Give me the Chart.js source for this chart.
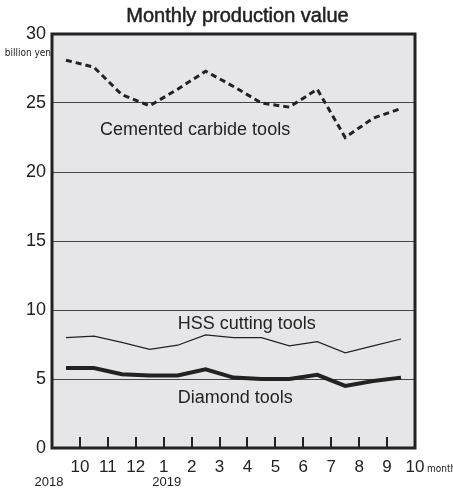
<!DOCTYPE html>
<html>
<head>
<meta charset="utf-8">
<script src="https://cdn.jsdelivr.net/npm/chart.js@4/dist/chart.umd.min.js"></script>
<style>
  body { margin: 0; background: #fff; }
  canvas { display: block; }
</style>
</head>
<body>
<canvas id="myChart" width="453" height="489"></canvas>
<script>
// months Sep 2018 .. Sep 2019, plotted between the month boundary ticks
var months = ['9', '10', '11', '12', '1', '2', '3', '4', '5', '6', '7', '8', '9'];
var tickLabels = ['', '10', '11', '12', '1', '2', '3', '4', '5', '6', '7', '8', '9', '10'];
var cementedCarbide = [28.1, 27.6, 25.6, 24.8, 26.0, 27.3, 26.2, 25.0, 24.7, 26.0, 22.5, 23.9, 24.6];
var hssCutting = [8.0, 8.1, 7.65, 7.15, 7.45, 8.2, 8.0, 8.0, 7.4, 7.7, 6.9, 7.4, 7.9];
var diamond = [5.8, 5.8, 5.35, 5.25, 5.25, 5.7, 5.1, 5.0, 5.0, 5.3, 4.5, 4.85, 5.1];
var yTicks = [0, 5, 10, 15, 20, 25, 30];

var FONT = "'Liberation Sans', Arial, sans-serif";
var NARROW = "'Liberation Sans Narrow', 'DejaVu Sans Condensed', sans-serif";

function points(values) {
    return values.map(function (v, i) { return { x: i + 0.5, y: v }; });
}

var decor = {
    id: 'decor',
    beforeDraw: function (chart) {
        var a = chart.chartArea, ctx = chart.ctx;
        ctx.save();
        ctx.fillStyle = '#e6e6e8';
        ctx.fillRect(a.left, a.top, a.right - a.left, a.bottom - a.top);
        ctx.restore();
    },
    afterDraw: function (chart) {
        var a = chart.chartArea, ctx = chart.ctx;
        var xs = chart.scales.x, ys = chart.scales.y;
        ctx.save();
        // inner tick marks on the bottom edge
        ctx.strokeStyle = '#222';
        ctx.lineWidth = 2;
        for (var i = 1; i < tickLabels.length - 1; i++) {
            var px = Math.round(xs.getPixelForValue(i));
            ctx.beginPath();
            ctx.moveTo(px, a.bottom);
            ctx.lineTo(px, a.bottom - 11);
            ctx.stroke();
        }
        // frame
        ctx.lineWidth = 3;
        ctx.strokeRect(a.left, a.top, a.right - a.left, a.bottom - a.top);

        ctx.fillStyle = '#222';
        // title
        ctx.font = '20px ' + FONT;
        ctx.textAlign = 'center';
        ctx.textBaseline = 'alphabetic';
        ctx.lineWidth = 0.5;
        ctx.fillText('Monthly production value', (a.left + a.right) / 2 + 4, 22);
        ctx.strokeText('Monthly production value', (a.left + a.right) / 2 + 4, 22);

        // series labels
        ctx.font = '18px ' + FONT;
        ctx.textAlign = 'left';
        ctx.fillText('Cemented carbide tools', xs.getPixelForValue(1.72), ys.getPixelForValue(22.7));
        ctx.fillText('HSS cutting tools', xs.getPixelForValue(4.5), ys.getPixelForValue(8.6));
        ctx.fillText('Diamond tools', xs.getPixelForValue(4.5), ys.getPixelForValue(3.25));

        // units and years
        ctx.font = '10px ' + NARROW;
        ctx.textAlign = 'right';
        ctx.fillText('billion yen', a.left - 1, 56);
        ctx.textAlign = 'left';
        ctx.fillText('month', a.right + 12, 472);
        ctx.font = '13px ' + FONT;
        ctx.textAlign = 'center';
        ctx.fillText('2018', xs.getPixelForValue(0) - 3, 486);
        ctx.fillText('2019', xs.getPixelForValue(4) + 3, 486);
        ctx.restore();
    }
};

var ctx = document.getElementById('myChart').getContext('2d');
var myChart = new Chart(ctx, {
    type: 'line',
    data: {
        datasets: [{
            label: 'Cemented carbide tools',
            data: points(cementedCarbide),
            borderColor: '#222',
            borderWidth: 3,
            borderDash: [6, 4],
            pointRadius: 0,
            tension: 0
        }, {
            label: 'HSS cutting tools',
            data: points(hssCutting),
            borderColor: '#222',
            borderWidth: 1.2,
            pointRadius: 0,
            tension: 0
        }, {
            label: 'Diamond tools',
            data: points(diamond),
            borderColor: '#222',
            borderWidth: 4,
            pointRadius: 0,
            tension: 0
        }]
    },
    options: {
        responsive: false,
        animation: false,
        devicePixelRatio: 1,
        layout: { padding: { top: 34, right: 38, left: 0, bottom: 0 } },
        plugins: {
            legend: { display: false },
            title: { display: false },
            tooltip: { enabled: false }
        },
        scales: {
            x: {
                type: 'linear',
                min: 0,
                max: tickLabels.length - 1,
                afterFit: function (scale) { scale.height = 41; },
                afterBuildTicks: function (scale) {
                    scale.ticks = tickLabels.map(function (t, i) { return { value: i }; });
                },
                ticks: {
                    autoSkip: false,
                    maxRotation: 0,
                    padding: 1,
                    color: '#222',
                    font: { family: FONT, size: 17 },
                    callback: function (v) { return tickLabels[v]; }
                },
                grid: { display: false },
                border: { display: false }
            },
            y: {
                min: 0,
                max: 30,
                afterFit: function (scale) { scale.width = 52; },
                afterBuildTicks: function (scale) {
                    scale.ticks = yTicks.map(function (v) { return { value: v }; });
                },
                ticks: {
                    padding: 6,
                    color: '#222',
                    font: { family: FONT, size: 18 }
                },
                grid: { color: '#444', lineWidth: 1, drawTicks: false },
                border: { display: false }
            }
        }
    },
    plugins: [decor]
});
</script>
</body>
</html>
